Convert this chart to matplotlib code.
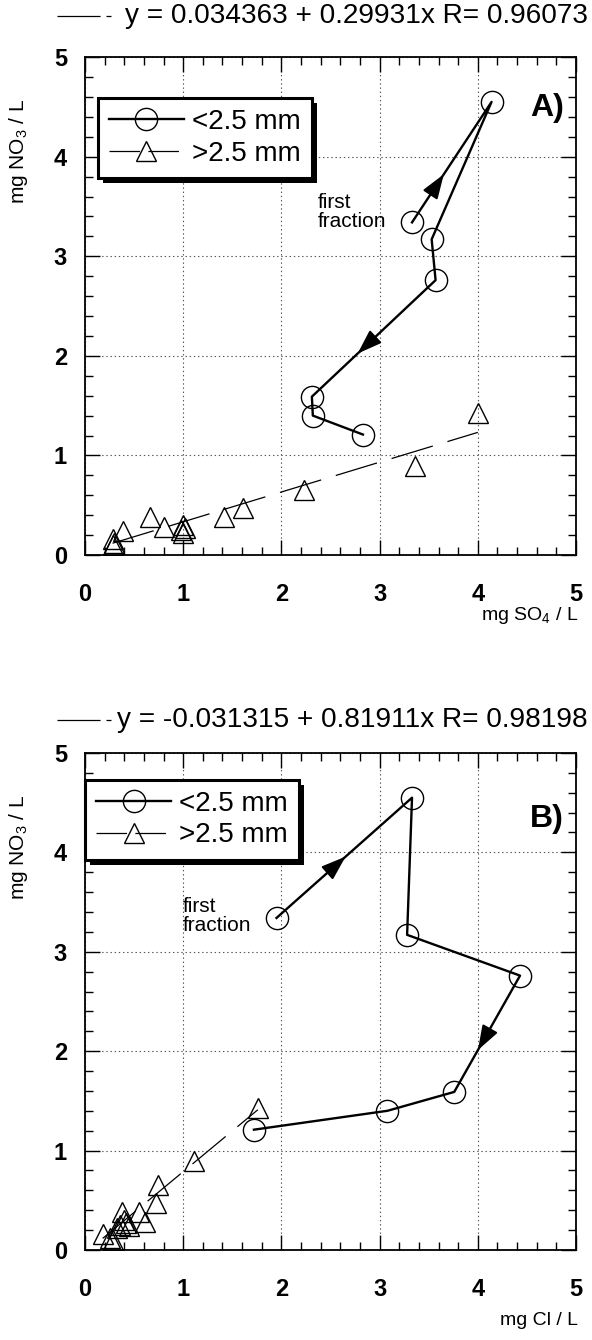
import numpy as np
import matplotlib
matplotlib.use('Agg')
import matplotlib.pyplot as plt
from matplotlib.lines import Line2D
from matplotlib.patches import Rectangle
from matplotlib.ticker import MultipleLocator
from matplotlib.transforms import IdentityTransform

plt.rcParams['font.family'] = ['Liberation Sans', 'DejaVu Sans']
plt.rcParams['mathtext.fontset'] = 'custom'
plt.rcParams['mathtext.rm'] = 'Liberation Sans'
plt.rcParams['lines.scale_dashes'] = False

# fine fraction (<2.5 mm), in the order the fractions were collected
no3_fine = [3.34, 4.55, 3.17, 2.76, 1.59, 1.40, 1.21]
so4_fine = [3.33, 4.14, 3.53, 3.57, 2.31, 2.32, 2.83]
cl_fine = [1.95, 3.33, 3.28, 4.43, 3.76, 3.08, 1.72]

# coarse fraction (>2.5 mm)
no3_coarse = [1.43, 0.89, 0.65, 0.47, 0.38, 0.38, 0.28, 0.24, 0.16, 0.12, 0.30, 0.27, 0.25, 0.22, 0.10]
so4_coarse = [4.00, 3.36, 2.23, 1.61, 1.42, 0.66, 0.80, 0.39, 0.28, 0.30, 1.00, 1.02, 0.98, 1.00, 0.29]
cl_coarse = [1.76, 1.11, 0.74, 0.72, 0.55, 0.38, 0.61, 0.45, 0.18, 0.25, 0.40, 0.42, 0.36, 0.33, 0.28]

# linear fits of the coarse fraction: intercept, slope, R
fit_so4 = (0.034363, 0.29931, 0.96073)
fit_cl = (-0.031315, 0.81911, 0.98198)

# arrows on the fine-fraction path: (segment index, position along segment)
arrows_so4 = [(0, 0.40), (3, 0.63)]
arrows_cl = [(0, 0.51), (3, 0.64)]

FIT_DASH = (31, 11)
W, H = 592, 1340


def style_axes(ax):
    ax.set_xlim(0, 5)
    ax.set_ylim(0, 5)
    ax.xaxis.set_major_locator(MultipleLocator(1))
    ax.yaxis.set_major_locator(MultipleLocator(1))
    ax.xaxis.set_minor_locator(MultipleLocator(0.2))
    ax.yaxis.set_minor_locator(MultipleLocator(0.2))
    ax.tick_params(which='both', direction='in', top=True, right=True, width=1.0, color='k')
    ax.tick_params(which='major', length=11)
    ax.tick_params(which='minor', length=5.5)
    ax.tick_params(axis='x', which='major', pad=20, labelsize=17)
    ax.tick_params(axis='y', which='major', pad=13, labelsize=17)
    for lab in ax.get_xticklabels() + ax.get_yticklabels():
        lab.set_fontweight('bold')
    for sp in ax.spines.values():
        sp.set_linewidth(1.3)
    ax.grid(True, which='major', linestyle=(0, (1, 2)), color='#555555', linewidth=0.8)
    ax.set_axisbelow(True)


def draw_panel(fig, rect, x_fine, x_coarse, fit, arrows, xlabel, xlabel_y, tag, tag_y,
               note_xy, legend_anchor, title_y):
    ax = fig.add_axes(rect)
    style_axes(ax)

    # coarse fraction and its regression line
    a, b, r = fit
    xf = np.array([min(x_coarse), max(x_coarse)])
    ax.plot(xf, a + b * xf, color='k', lw=0.9, dashes=FIT_DASH, zorder=3)
    ax.plot(x_coarse, no3_coarse, linestyle='none', marker='^', ms=15,
            mfc='none', mec='k', mew=1.0, zorder=4)

    # fine fraction path
    ax.plot(x_fine, no3_fine, color='k', lw=1.7, marker='o', ms=16,
            mfc='none', mec='k', mew=1.0, zorder=4)
    for seg, t in arrows:
        p0 = np.array([x_fine[seg], no3_fine[seg]])
        p1 = np.array([x_fine[seg + 1], no3_fine[seg + 1]])
        tip = p0 + t * (p1 - p0)
        tail = p0 + (t - 0.06) * (p1 - p0)
        ax.annotate('', xy=tip, xytext=tail,
                    arrowprops=dict(arrowstyle='-|>,head_length=1.0,head_width=0.35',
                                    mutation_scale=15, color='k', lw=1.5,
                                    shrinkA=0, shrinkB=0), zorder=5)

    ax.text(note_xy[0], note_xy[1], 'first\nfraction', fontsize=15, ha='left',
            va='center', linespacing=1.0)
    ax.text(4.53, tag_y, tag, fontsize=23, fontweight='bold', ha='left', va='center')

    ax.set_ylabel('mg NO$_3$ / L', fontsize=15)
    ax.yaxis.set_label_coords(-0.112, 0.81)
    ax.text(1.004, xlabel_y, xlabel, transform=ax.transAxes, ha='right', va='center',
            fontsize=14)

    # legend: fine line with circle, coarse dashed line with triangle
    h_circ = Line2D([], [], color='k', lw=1.7, marker='o', ms=16, mfc='none', mew=1.0)
    h_tri = Line2D([], [], color='k', lw=0.9, dashes=(22, 6), marker='^', ms=15,
                   mfc='none', mew=1.0)
    leg = ax.legend([h_circ, h_tri], ['<2.5 mm', '>2.5 mm'], loc='upper left',
                    bbox_to_anchor=legend_anchor, borderaxespad=0, fontsize=20,
                    frameon=True, fancybox=False, framealpha=1, edgecolor='k',
                    handlelength=2.7, handletextpad=0.3, borderpad=0.4,
                    labelspacing=0.2)
    leg.get_frame().set_linewidth(2.2)
    leg.set_zorder(6)

    # fit equation above the panel, with a sample of the fit line
    txt = f'y = {a:g} + {b:g}x R= {r:g}'
    fig.text(588 / W, title_y, txt, ha='right', va='center', fontsize=20.2)
    fig.add_artist(Line2D([57 / W, 111 / W], [title_y, title_y], transform=fig.transFigure,
                          color='k', lw=0.9, dashes=(31, 4.3)))
    return ax, leg


def add_shadow(fig, ax, leg, off=5):
    fig.canvas.draw()
    bb = leg.get_frame().get_window_extent()
    sh = Rectangle((bb.x0 + off, bb.y0 - off), bb.width, bb.height,
                   transform=IdentityTransform(), facecolor='k', edgecolor='none',
                   zorder=5.9, clip_on=False)
    ax.add_artist(sh)


def main():
    fig = plt.figure(figsize=(W / 100, H / 100), dpi=100)

    ax_a, leg_a = draw_panel(fig, [0.1436, 0.5858, 0.8294, 0.3716], so4_fine, so4_coarse,
                             fit_so4, arrows_so4, 'mg SO$_4$ / L', -0.122, 'A)', 4.49,
                             (2.37, 3.44), (0.026, 0.918), 1 - 16 / H)
    ax_b, leg_b = draw_panel(fig, [0.1436, 0.0672, 0.8294, 0.3709], cl_fine, cl_coarse,
                             fit_cl, arrows_cl, 'mg Cl / L', -0.141, 'B)', 4.34,
                             (1.0, 3.36), (0.0, 0.946), 1 - 720 / H)

    add_shadow(fig, ax_a, leg_a)
    add_shadow(fig, ax_b, leg_b)

    fig.savefig('out.png', dpi=100)


if __name__ == '__main__':
    main()
